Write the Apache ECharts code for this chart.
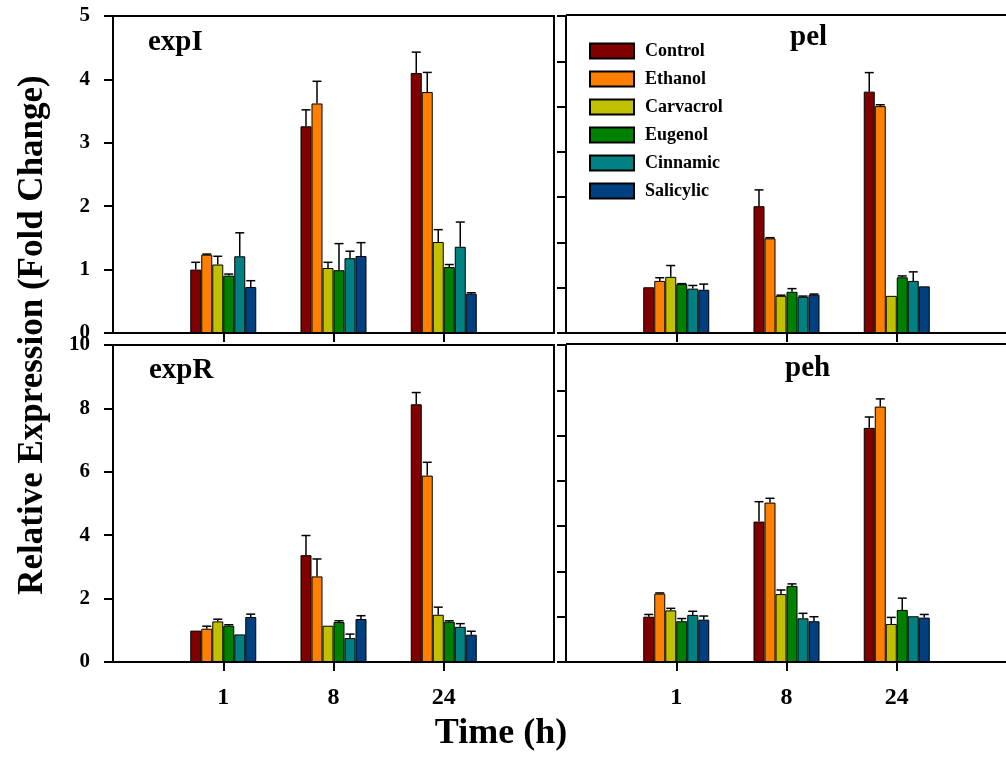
<!DOCTYPE html>
<html><head><meta charset="utf-8">
<script src="https://cdn.jsdelivr.net/npm/echarts@6/dist/echarts.min.js"></script>
<style>html,body{margin:0;padding:0;background:#fff}#c{width:1006px;height:762px}</style>
</head><body><div id="c"></div>
<script>
// ---- data ----
const categories = ['', '1', '8', '24', ''];
const seriesNames = ['Control', 'Ethanol', 'Carvacrol', 'Eugenol', 'Cinnamic', 'Salicylic'];
const seriesColors = ['#800000', '#FF8000', '#C0C000', '#008000', '#008080', '#004080'];
const panelTitles = ['expI', 'pel', 'expR', 'peh'];

// values[seriesIndex] = [1h, 8h, 24h]
const expI_values = [[1.00, 3.26, 4.10], [1.235, 3.62, 3.80], [1.08, 1.025, 1.435], [0.905, 0.99, 1.04], [1.21, 1.18, 1.36], [0.725, 1.215, 0.62]];
const expI_errors = [[0.115, 0.26, 0.33], [0.01, 0.35, 0.31], [0.13, 0.09, 0.195], [0.025, 0.42, 0.04], [0.37, 0.11, 0.39], [0.10, 0.21, 0.015]];
const pel_values = [[1.01, 2.80, 5.33], [1.15, 2.09, 5.01], [1.24, 0.82, 0.82], [1.08, 0.91, 1.23], [0.98, 0.80, 1.15], [0.955, 0.845, 1.03]];
const pel_errors = [[0, 0.36, 0.42], [0.07, 0.015, 0.03], [0.25, 0.015, 0], [0.01, 0.07, 0.03], [0.07, 0.015, 0.20], [0.125, 0.015, 0]];
const expR_values = [[0.99, 3.37, 8.13], [1.05, 2.70, 5.88], [1.28, 1.145, 1.49], [1.145, 1.26, 1.27], [0.87, 0.755, 1.11], [1.42, 1.355, 0.86]];
const expR_errors = [[0, 0.62, 0.37], [0.08, 0.55, 0.42], [0.07, 0, 0.24], [0.03, 0.04, 0.03], [0, 0.125, 0.10], [0.09, 0.105, 0.11]];
const peh_values = [[1.00, 3.10, 5.17], [1.51, 3.52, 5.64], [1.14, 1.50, 0.84], [0.90, 1.68, 1.15], [1.04, 0.965, 1.01], [0.935, 0.90, 0.98]];
const peh_errors = [[0.05, 0.44, 0.24], [0.015, 0.095, 0.17], [0.045, 0.09, 0.145], [0.06, 0.045, 0.26], [0.08, 0.11, 0], [0.08, 0.10, 0.07]];

// ---- layout ----
const FONT = '"Liberation Serif", "Times New Roman", serif';
const BAR_W = 11;
const CAP = 4.5;
const panels = [
  { title: panelTitles[0], vals: expI_values, errs: expI_errors, grid: { left: 113, top: 16, width: 441, height: 317 }, max: 5, interval: 1, labels: true, xLabels: false, box: true, tx: 148, ty: 42.5 },
  { title: panelTitles[1], vals: pel_values, errs: pel_errors, grid: { left: 566, top: 16, width: 441, height: 317 }, max: 7, interval: 1, labels: false, xLabels: false, box: false, tx: 790, ty: 37.5 },
  { title: panelTitles[2], vals: expR_values, errs: expR_errors, grid: { left: 113, top: 345, width: 441, height: 317 }, max: 10, interval: 2, labels: true, xLabels: true, box: true, tx: 149, ty: 371 },
  { title: panelTitles[3], vals: peh_values, errs: peh_errors, grid: { left: 566, top: 345, width: 441, height: 317 }, max: 7, interval: 1, labels: false, xLabels: true, box: false, tx: 785, ty: 369 }
];

const grids = [], xAxes = [], yAxes = [], series = [], graphics = [];
panels.forEach((p, gi) => {
  grids.push(Object.assign({ show: p.box, borderColor: '#000', borderWidth: 2, backgroundColor: 'transparent', containLabel: false, outerBoundsMode: 'none' }, p.grid));
  if (!p.box) {
    graphics.push({ type: 'line', shape: { x1: p.grid.left, y1: p.grid.top - 1, x2: 1006, y2: p.grid.top - 1 }, style: { stroke: '#000', lineWidth: 2 }, z: 10 });
  }
  xAxes.push({
    type: 'category', gridIndex: gi, data: categories, boundaryGap: false,
    axisLine: { show: true, lineStyle: { color: '#000', width: 2 } },
    axisTick: { show: true, inside: false, length: 9, lineStyle: { color: '#000', width: 2 }, interval: (i) => i >= 1 && i <= 3 },
    axisLabel: { show: p.xLabels, interval: 0, margin: 24, color: '#000', fontFamily: FONT, fontWeight: 'bold', fontSize: 24 },
    splitLine: { show: false }
  });
  yAxes.push({
    type: 'value', gridIndex: gi, min: 0, max: p.max, interval: p.interval,
    axisLine: { show: true, lineStyle: { color: '#000', width: 2 } },
    axisTick: { show: true, inside: false, length: 9, lineStyle: { color: '#000', width: 2 } },
    axisLabel: { show: p.labels, margin: 23, color: '#000', fontFamily: FONT, fontWeight: 'bold', fontSize: 21 },
    splitLine: { show: false }
  });
  seriesNames.forEach((name, si) => {
    series.push({
      type: 'bar', name: name, xAxisIndex: gi, yAxisIndex: gi,
      data: [null].concat(p.vals[si]).concat([null]),
      barWidth: BAR_W, barGap: '0%',
      itemStyle: { color: seriesColors[si], borderColor: '#000', borderWidth: 1 },
      animation: false, z: 2
    });
  });
  seriesNames.forEach((name, si) => {
    series.push({
      type: 'custom', xAxisIndex: gi, yAxisIndex: gi, z: 3, animation: false, silent: true,
      data: p.vals[si].map((v, k) => [k + 1, v, p.errs[si][k]]),
      renderItem: function (params, api) {
        const xi = api.value(0), v = api.value(1), e = api.value(2);
        if (!e) return null;
        const b = api.coord([xi, v]);
        const t = api.coord([xi, v + e]);
        const cx = b[0] + (si - 2.5) * BAR_W;
        return {
          type: 'group', children: [
            { type: 'line', shape: { x1: cx, y1: b[1], x2: cx, y2: t[1] }, style: { stroke: '#000', lineWidth: 1.5 } },
            { type: 'line', shape: { x1: cx - CAP, y1: t[1], x2: cx + CAP, y2: t[1] }, style: { stroke: '#000', lineWidth: 1.5 } }
          ]
        };
      }
    });
  });
  graphics.push({ type: 'text', x: p.tx, y: p.ty, style: { text: p.title, font: 'bold 29px ' + FONT, fill: '#000', align: 'left', verticalAlign: 'middle' } });
});

graphics.push({ type: 'text', x: 501, y: 734, style: { text: 'Time (h)', font: 'bold 36px ' + FONT, fill: '#000', align: 'center', verticalAlign: 'middle' } });
graphics.push({ type: 'text', x: 15, y: 335, rotation: Math.PI / 2, style: { text: 'Relative Expression (Fold Change)', font: 'bold 35px ' + FONT, fill: '#000', align: 'center', verticalAlign: 'top' } });

const chart = echarts.init(document.getElementById('c'), null, { renderer: 'canvas' });
chart.setOption({
  animation: false,
  backgroundColor: '#fff',
  grid: grids, xAxis: xAxes, yAxis: yAxes, series: series,
  legend: {
    data: seriesNames, orient: 'vertical', left: 589, top: 42, padding: 0, itemWidth: 44, itemHeight: 15, itemGap: 10,
    icon: 'rect', selectedMode: false,
    textStyle: { color: '#000', fontFamily: FONT, fontWeight: 'bold', fontSize: 18, padding: [0, 0, 0, 6] }
  },
  graphic: graphics
});
</script>
</body></html>
